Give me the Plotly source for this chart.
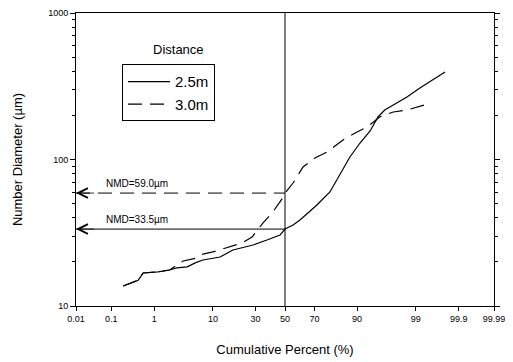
import plotly.graph_objects as go
from statistics import NormalDist
import math

# ---- data ----
pct_25 = [0.2, 0.45, 0.58, 1.2, 2.0, 2.7, 4.1, 5.5, 7.2, 12.4, 17.7, 28.5, 37.4, 46.5, 50,
          55.7, 60.5, 71.5, 78.8, 83.6, 87.6, 90.9, 93.5, 95.1, 96.2, 97.3, 98.5, 99.18, 99.58, 99.78]
dia_25 = [13.7, 15.0, 16.8, 17.1, 17.6, 18.2, 18.5, 19.7, 20.6, 21.6, 24.1, 26.1, 28.2, 30.5, 33.5,
          35.7, 38.6, 48.9, 60.0, 79.6, 104, 129.6, 156.5, 195.1, 217.7, 235.5, 267, 307.6, 349, 395.7]

pct_30 = [0.2, 0.45, 0.58, 1.2, 2.0, 2.7, 3.5, 5.9, 7.2, 10, 15.1, 22.2, 27.9, 34.8, 40.9, 47.9, 50,
          55.7, 62.6, 70.3, 77.3, 84.9, 89.4, 92.8, 95.4, 96.5, 97.3, 98.5, 99.36, 99.45]
dia_30 = [13.7, 15.0, 16.8, 17.1, 17.6, 19.1, 20.3, 21.3, 22.6, 23.4, 24.9, 26.9, 29.6, 36.9, 43.1, 53.8, 59.0,
          69.1, 88.9, 102.4, 112.5, 135.9, 151.7, 166.7, 195.1, 204.5, 211, 217.7, 235.5, 239.3]

x_ticks = [0.01, 0.1, 1, 10, 30, 50, 70, 90, 99, 99.9, 99.99]
x_ticklabels = ["0.01", "0.1", "1", "10", "30", "50", "70", "90", "99", "99.9", "99.99"]
y_ticks = [10, 100, 1000]
nmd_pct = 50
nmd_25 = 33.5
nmd_30 = 59.0

nd = NormalDist()
def probit(p):
    return nd.inv_cdf(p / 100.0)

FONT = "Liberation Sans, Arial, sans-serif"

fig = go.Figure()
fig.add_trace(go.Scatter(x=[probit(p) for p in pct_25], y=dia_25, mode="lines", name="2.5m",
                         line=dict(color="black", width=1.2)))
fig.add_trace(go.Scatter(x=[probit(p) for p in pct_30], y=dia_30, mode="lines", name="3.0m",
                         line=dict(color="black", width=1.2, dash="14px,8px")))

zmin = probit(x_ticks[0])
zmax = probit(x_ticks[-1])

# vertical line at 50%
fig.add_shape(type="line", xref="x", yref="paper", x0=probit(nmd_pct), x1=probit(nmd_pct), y0=0, y1=1,
              line=dict(color="black", width=1))
# NMD horizontal lines
fig.add_shape(type="line", xref="x", yref="y", x0=zmin, x1=probit(nmd_pct), y0=nmd_30, y1=nmd_30,
              line=dict(color="black", width=1, dash="14px,8px"))
fig.add_shape(type="line", xref="x", yref="y", x0=zmin, x1=probit(nmd_pct), y0=nmd_25, y1=nmd_25,
              line=dict(color="black", width=1))

for val, txt in [(nmd_30, "NMD=59.0\u00b5m"), (nmd_25, "NMD=33.5\u00b5m")]:
    fig.add_annotation(x=zmin, y=math.log10(val), ax=zmin + 0.35, ay=math.log10(val),
                       xref="x", yref="y", axref="x", ayref="y", text="", showarrow=True,
                       arrowhead=5, arrowsize=2.4, arrowwidth=0.8, arrowcolor="black")
    fig.add_annotation(x=zmin + 0.5, y=math.log10(val), xref="x", yref="y", text=txt,
                       showarrow=False, xanchor="left", yanchor="bottom", yshift=2,
                       font=dict(family=FONT, size=10, color="black"))

fig.add_annotation(x=0.245, y=0.875, xref="paper", yref="paper", text="Distance", showarrow=False,
                   xanchor="center", yanchor="middle", font=dict(family=FONT, size=13, color="black"))

# the page body adds an 8px offset; the figure is sized so the plot lands where the reference has it
fig.update_layout(
    width=505, height=354,
    margin=dict(l=68, r=19, t=5, b=56, autoexpand=False),
    paper_bgcolor="white", plot_bgcolor="white",
    font=dict(family=FONT, color="black"),
    legend=dict(x=0.11, y=0.825, xanchor="left", yanchor="top", bordercolor="black", borderwidth=1,
                bgcolor="white", font=dict(family=FONT, size=15, color="black"),
                itemwidth=42, tracegroupgap=0),
    showlegend=True,
)
fig.update_xaxes(range=[zmin, zmax], tickmode="array", tickvals=[probit(p) for p in x_ticks],
                 ticktext=x_ticklabels, ticks="outside", ticklen=4, tickcolor="black",
                 showgrid=False, zeroline=False, showline=True, linecolor="black", linewidth=1,
                 mirror=True, tickfont=dict(family=FONT, size=9, color="black"),
                 automargin=False, ticklabeloverflow="allow",
                 title=dict(text="Cumulative Percent (%)", font=dict(family=FONT, size=13, color="black"),
                            standoff=22))
fig.update_yaxes(type="log", range=[1, 3], tickmode="array", tickvals=y_ticks,
                 ticks="outside", ticklen=5, tickcolor="black",
                 minor=dict(ticks="outside", ticklen=3, tickcolor="black", dtick="D1", showgrid=False),
                 showgrid=False, zeroline=False, showline=True, linecolor="black", linewidth=1,
                 mirror="ticks", tickfont=dict(family=FONT, size=9, color="black"),
                 automargin=False,
                 title=dict(text="Number Diameter (\u00b5m)", font=dict(family=FONT, size=13, color="black"),
                            standoff=22))

fig.write_html("out.html")
